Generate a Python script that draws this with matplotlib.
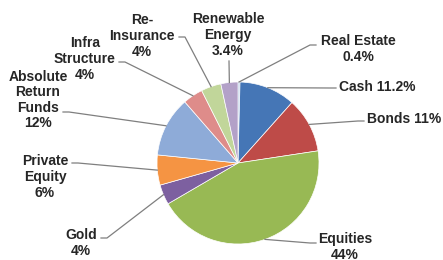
import numpy as np
import matplotlib
matplotlib.use("Agg")
import matplotlib.pyplot as plt

# data (clockwise from the top)
labels = ["Real Estate", "Cash", "Bonds", "Equities", "Gold", "Private\nEquity",
          "Absolute\nReturn\nFunds", "Infra\nStructure", "Re-\nInsurance", "Renewable\nEnergy"]
shares = [0.4, 11.2, 11, 44, 4, 6, 12, 4, 4, 3.4]
pct_text = ["0.4%", "11.2%", "11%", "44%", "4%", "6%", "12%", "4%", "4%", "3.4%"]
colors = ["#A9C3E3", "#4576B6", "#BE4B48", "#98B954", "#7D60A0", "#F59443",
          "#8EABD8", "#DE8C8A", "#C1D69A", "#B3A1C8"]

# label layout: text centre, alignment, how label & pct join, leader start, stub
layout = [
    ((358, 49), "center", "\n", (316, 45), -6),
    ((339, 87), "left", " ", (336, 88), -6),
    ((367, 119), "left", " ", (364, 121), -6),
    ((345, 247), "center", "\n", (316, 243), -6),
    ((81, 243), "center", "\n", (101, 238), 6),
    ((45, 177), "center", "\n", (72, 163), 6),
    ((38, 100), "center", "\n", (63, 112), 6),
    ((85, 59), "center", "\n", (119, 62), 6),
    ((142, 36), "center", "\n", (179, 37), 6),
    ((228, 35), "center", "\n", (229, 61), 0),
]

cx, cy, r = 238, 163, 81

fig = plt.figure(figsize=(4.43, 2.6), dpi=100)
ax = fig.add_axes([0, 0, 1, 1])
wedges, _ = ax.pie(shares, colors=colors, startangle=270, counterclock=True,
                   center=(cx, cy), radius=r,
                   wedgeprops=dict(edgecolor="white", linewidth=0.5))
ax.set_xlim(0, 443)
ax.set_ylim(260, 0)
ax.set_aspect("equal")
ax.axis("off")

for w, lab, pct, (tpos, ha, sep, lstart, stub) in zip(wedges, labels, pct_text, layout):
    mid = np.deg2rad((w.theta1 + w.theta2) / 2)
    px, py = cx + r * np.cos(mid), cy + r * np.sin(mid)
    sx, sy = lstart
    ax.plot([sx, sx + stub, px], [sy, sy, py], color="#7F7F7F", lw=0.9)
    ax.text(tpos[0], tpos[1], lab + sep + pct, ha=ha, va="center",
            fontsize=10, fontweight="bold", family="Liberation Sans",
            color="#262626", linespacing=1.15, multialignment="center")

fig.savefig("out.png", dpi=100)
